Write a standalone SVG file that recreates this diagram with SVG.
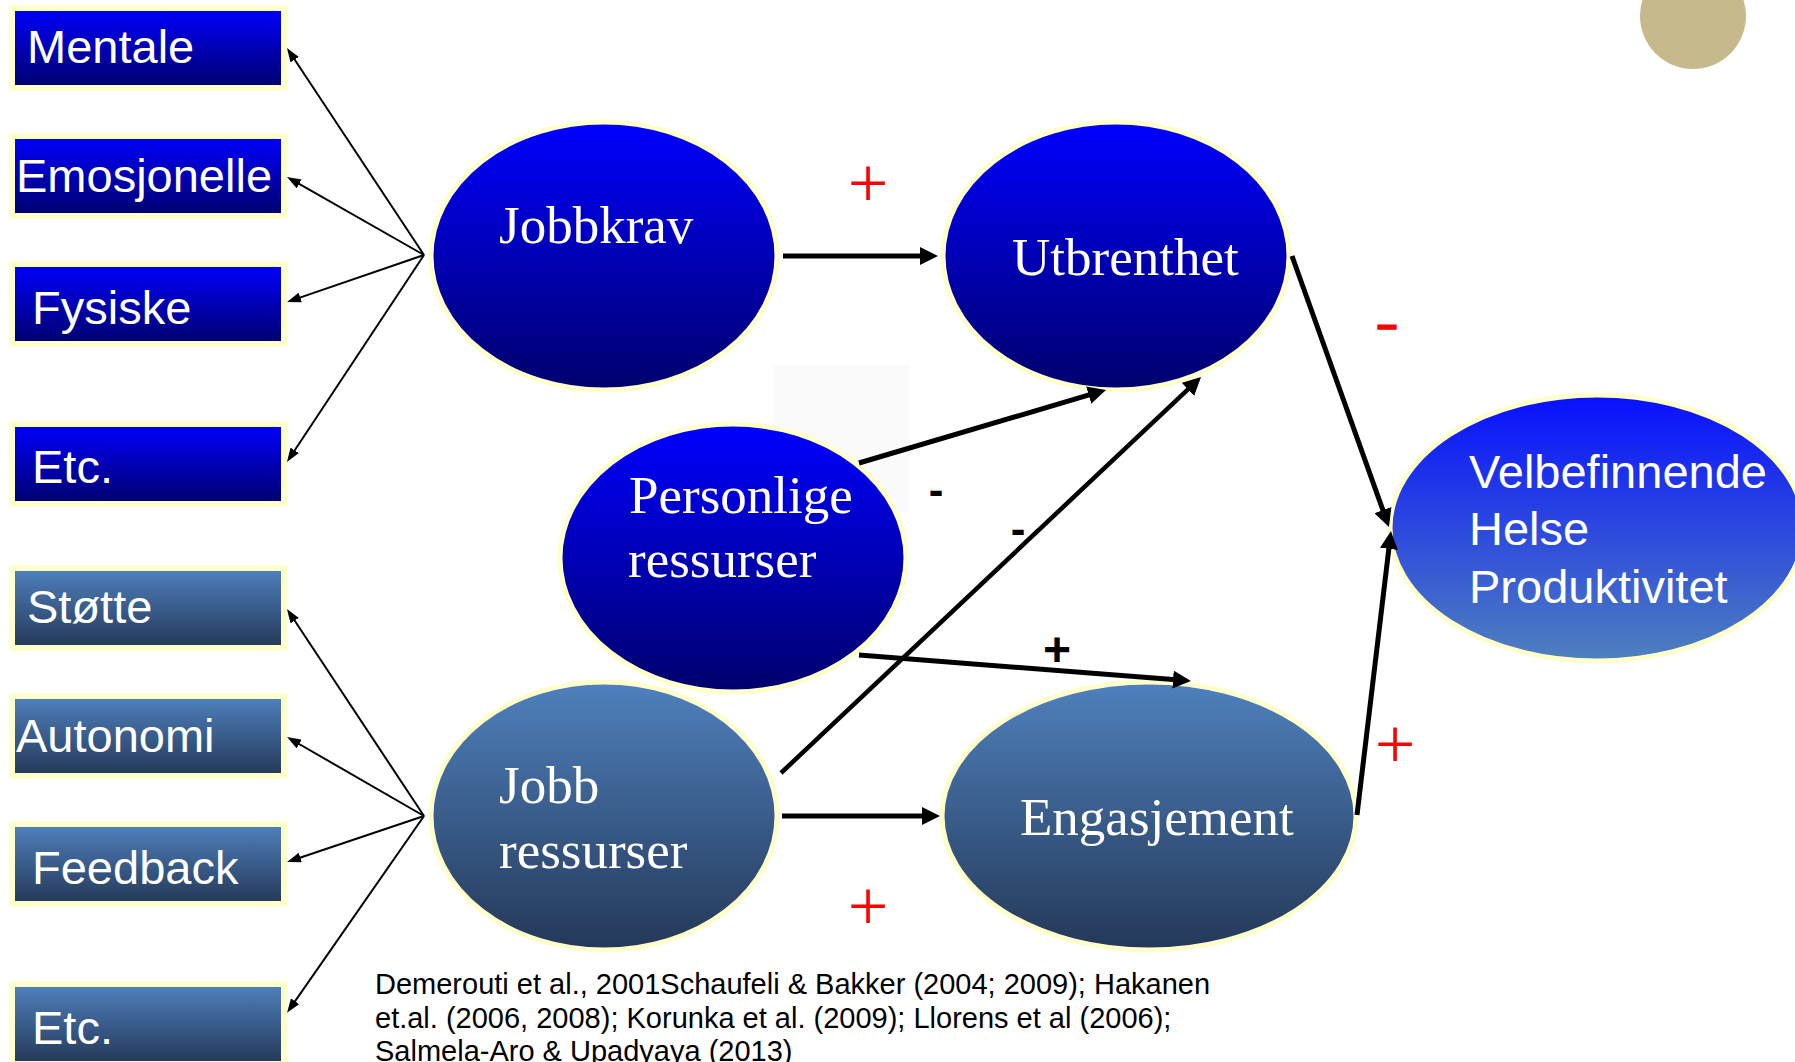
<svg xmlns="http://www.w3.org/2000/svg" width="1795" height="1062" viewBox="0 0 1795 1062">
  <defs>
    <linearGradient id="gBlue" x1="0" y1="0" x2="0" y2="1">
      <stop offset="0" stop-color="#0000ff"/>
      <stop offset="1" stop-color="#00006c"/>
    </linearGradient>
    <linearGradient id="gSteel" x1="0" y1="0" x2="0" y2="1">
      <stop offset="0" stop-color="#4f81bd"/>
      <stop offset="1" stop-color="#243858"/>
    </linearGradient>
    <linearGradient id="gOutcome" x1="0" y1="0" x2="0" y2="1">
      <stop offset="0" stop-color="#0810ff"/>
      <stop offset="1" stop-color="#4f81bd"/>
    </linearGradient>
    <marker id="headThin" markerUnits="userSpaceOnUse" markerWidth="14" markerHeight="10" refX="2" refY="5" orient="auto">
      <path d="M0,0 L14,5 L0,10 z" fill="#000"/>
    </marker>
    <marker id="headThick" markerUnits="userSpaceOnUse" markerWidth="18" markerHeight="18" refX="3" refY="9" orient="auto">
      <path d="M0,0 L18,9 L0,18 z" fill="#000"/>
    </marker>
  </defs>
  <style>
    .box { stroke: #ffffcc; stroke-width: 6; }
    .oval { stroke: #ffffcc; stroke-width: 5; }
    .boxText { font-family: "Liberation Sans", Arial, sans-serif; font-size: 47px; fill: #ffffff; }
    .ovalText { font-family: "Liberation Serif", "Times New Roman", serif; font-size: 53px; fill: #ffffff; }
    .thin { stroke: #000; stroke-width: 2; fill: none; marker-end: url(#headThin); }
    .thick { stroke: #000; stroke-width: 5; fill: none; marker-end: url(#headThick); }
    .redSign { font-family: "Liberation Serif", "Times New Roman", serif; font-size: 72px; fill: #ff0000; text-anchor: middle; }
    .blackSign { font-family: "Liberation Sans", Arial, sans-serif; font-weight: bold; fill: #000; text-anchor: middle; }
    .cite { font-family: "Liberation Sans", Arial, sans-serif; font-size: 29px; fill: #000; }
  </style>

  <rect width="1795" height="1062" fill="#ffffff"/>

  <!-- decorative corner disc -->
  <circle cx="1693" cy="16" r="53" fill="#c6b98b"/>

  <!-- faint backdrop patch -->
  <rect x="773" y="365" width="137" height="147" fill="#fafafa"/>

  <!-- demand boxes -->
  <g id="mentale"><rect class="box" x="12" y="8" width="272" height="80" fill="url(#gBlue)"/><text class="boxText" x="27" y="63">Mentale</text></g>
  <g id="emosjonelle"><rect class="box" x="12" y="136" width="272" height="80" fill="url(#gBlue)"/><text class="boxText" x="16" y="192">Emosjonelle</text></g>
  <g id="fysiske"><rect class="box" x="12" y="264" width="272" height="80" fill="url(#gBlue)"/><text class="boxText" x="32" y="324">Fysiske</text></g>
  <g id="etc-krav"><rect class="box" x="12" y="424" width="272" height="80" fill="url(#gBlue)"/><text class="boxText" x="32" y="483">Etc.</text></g>

  <!-- resource boxes -->
  <g id="stotte"><rect class="box" x="12" y="568" width="272" height="80" fill="url(#gSteel)"/><text class="boxText" x="27" y="623">Støtte</text></g>
  <g id="autonomi"><rect class="box" x="12" y="696" width="272" height="80" fill="url(#gSteel)"/><text class="boxText" x="16" y="752">Autonomi</text></g>
  <g id="feedback"><rect class="box" x="12" y="824" width="272" height="80" fill="url(#gSteel)"/><text class="boxText" x="32" y="884">Feedback</text></g>
  <g id="etc-ressurser"><rect class="box" x="12" y="984" width="272" height="80" fill="url(#gSteel)"/><text class="boxText" x="32" y="1044">Etc.</text></g>

  <!-- model ovals -->
  <g id="jobbkrav"><ellipse class="oval" cx="604" cy="256" rx="173" ry="134" fill="url(#gBlue)"/><text class="ovalText" x="499" y="243">Jobbkrav</text></g>
  <g id="utbrenthet"><ellipse class="oval" cx="1116" cy="256" rx="173" ry="134" fill="url(#gBlue)"/><text class="ovalText" x="1012" y="275">Utbrenthet</text></g>
  <g id="personlige"><ellipse class="oval" cx="733" cy="558" rx="173" ry="134" fill="url(#gBlue)"/><text class="ovalText" x="629" y="513">Personlige</text><text class="ovalText" x="628" y="577">ressurser</text></g>
  <g id="jobbressurser"><ellipse class="oval" cx="604" cy="816" rx="173" ry="134" fill="url(#gSteel)"/><text class="ovalText" x="499" y="803">Jobb</text><text class="ovalText" x="499" y="868">ressurser</text></g>
  <g id="engasjement"><ellipse class="oval" cx="1149" cy="816" rx="207" ry="134" fill="url(#gSteel)"/><text class="ovalText" x="1020" y="835">Engasjement</text></g>
  <g id="velbefinnende"><ellipse class="oval" cx="1597" cy="528" rx="207" ry="133" fill="url(#gOutcome)"/>
    <text class="boxText" x="1469" y="488">Velbefinnende</text>
    <text class="boxText" x="1469" y="545">Helse</text>
    <text class="boxText" x="1469" y="603">Produktivitet</text>
  </g>

  <!-- connectors -->
  <g id="connectors">
    <line class="thin" x1="424" y1="255" x2="293.6" y2="58"/>
    <line class="thin" x1="424" y1="255" x2="297.4" y2="182.9"/>
    <line class="thin" x1="424" y1="255" x2="298.4" y2="298.1"/>
    <line class="thin" x1="424" y1="255" x2="293.6" y2="452"/>
    <line class="thin" x1="424" y1="816" x2="293.6" y2="619"/>
    <line class="thin" x1="424" y1="816" x2="297.4" y2="743"/>
    <line class="thin" x1="424" y1="816" x2="298.4" y2="858.2"/>
    <line class="thin" x1="424" y1="816" x2="293.9" y2="1002.9"/>

    <line class="thick" x1="783" y1="256" x2="923" y2="256"/>
    <line class="thick" x1="859" y1="463" x2="1091.6" y2="394.2"/>
    <line class="thick" x1="781" y1="773" x2="1190.1" y2="387.3" style="stroke-width:4.5"/>
    <line class="thick" x1="859" y1="655" x2="1176" y2="679.8"/>
    <line class="thick" x1="782" y1="816" x2="925" y2="816"/>
    <line class="thick" x1="1292" y1="256" x2="1383.9" y2="512.9"/>
    <line class="thick" x1="1357" y1="815" x2="1389.2" y2="545.9"/>
  </g>

  <!-- effect signs -->
  <text class="redSign" x="868" y="207">+</text>
  <text class="redSign" x="868" y="930">+</text>
  <text class="redSign" x="1395" y="768">+</text>
  <text class="blackSign" x="1387" y="337" style="font-size:36px;fill:#ff0000;stroke:#ff0000;stroke-width:1.5">–</text>
  <text class="blackSign" x="936" y="505" style="font-size:44px">-</text>
  <text class="blackSign" x="1018" y="544" style="font-size:44px">-</text>
  <text class="blackSign" x="1057" y="666" style="font-size:48px">+</text>

  <!-- references -->
  <text class="cite" x="375" y="994">Demerouti et al., 2001Schaufeli &amp; Bakker (2004; 2009); Hakanen</text>
  <text class="cite" x="375" y="1028">et.al. (2006, 2008); Korunka et al. (2009); Llorens et al (2006);</text>
  <text class="cite" x="375" y="1061">Salmela-Aro &amp; Upadyaya (2013)</text>
</svg>
